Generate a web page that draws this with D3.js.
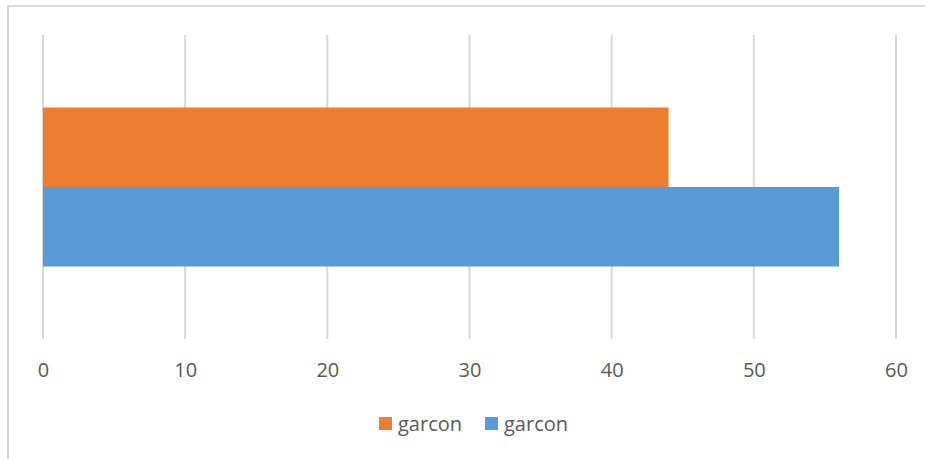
<!DOCTYPE html>
<html lang="en">
<head>
<meta charset="utf-8">
<title>garcon</title>
<script src="https://cdn.jsdelivr.net/npm/d3@7"></script>
<style>
  body { margin: 0; background: #fff; }
  svg text { font-family: "Open Sans", "Noto Sans", sans-serif; fill: #595959; }
</style>
</head>
<body>
<svg id="chart" width="925" height="459"></svg>
<script>
// data
const categories = ["1"];
const seriesNames = ["garcon", "garcon"];
const seriesValues = [44, 56];
const seriesColors = ["#ED7D31", "#5B9BD5"];
const xTicks = [0, 10, 20, 30, 40, 50, 60];

const svg = d3.select("#chart");

// outer frame (cut off on the right and bottom)
svg.append("path")
  .attr("d", "M8,459 V6 H925")
  .attr("fill", "none")
  .attr("stroke", "#D9D9D9")
  .attr("stroke-width", 2);

const plot = { left: 43, right: 896, top: 35, bottom: 339 };

const x = d3.scaleLinear().domain([0, 60]).range([plot.left, plot.right]);
const y = d3.scaleBand().domain(categories)
  .range([plot.top, plot.bottom])
  .paddingInner(0).paddingOuter(0.456);
const ySub = d3.scaleBand().domain(d3.range(seriesValues.length))
  .range([0, y.bandwidth()]);

// gridlines
svg.append("g").selectAll("line")
  .data(xTicks)
  .join("line")
  .attr("x1", d => x(d)).attr("x2", d => x(d))
  .attr("y1", plot.top).attr("y2", plot.bottom)
  .attr("stroke", "#D9D9D9")
  .attr("stroke-width", 2);

// bars
categories.forEach(c => {
  svg.append("g").selectAll("rect")
    .data(seriesValues)
    .join("rect")
    .attr("x", x(0))
    .attr("y", (d, i) => y(c) + ySub(i))
    .attr("width", d => x(d) - x(0))
    .attr("height", ySub.bandwidth())
    .attr("fill", (d, i) => seriesColors[i]);
});

// x axis labels
const xAxis = d3.axisBottom(x).tickValues(xTicks).tickSize(0).tickPadding(0);
const gx = svg.append("g")
  .attr("transform", `translate(0,${plot.bottom})`)
  .call(xAxis);
gx.select(".domain").remove();
gx.selectAll("text")
  .attr("y", 38)
  .attr("dy", null)
  .attr("font-size", 20)
  .style("font-family", '"Open Sans", "Noto Sans", sans-serif')
  .style("fill", "#595959");

// legend
const legendX = [379, 485];
const lg = svg.append("g").selectAll("g")
  .data(seriesNames)
  .join("g")
  .attr("transform", (d, i) => `translate(${legendX[i]},417)`);
lg.append("rect")
  .attr("width", 13).attr("height", 13)
  .attr("fill", (d, i) => seriesColors[i]);
lg.append("text")
  .attr("x", 19).attr("y", 14)
  .attr("font-size", 20)
  .text(d => d);
</script>
</body>
</html>
